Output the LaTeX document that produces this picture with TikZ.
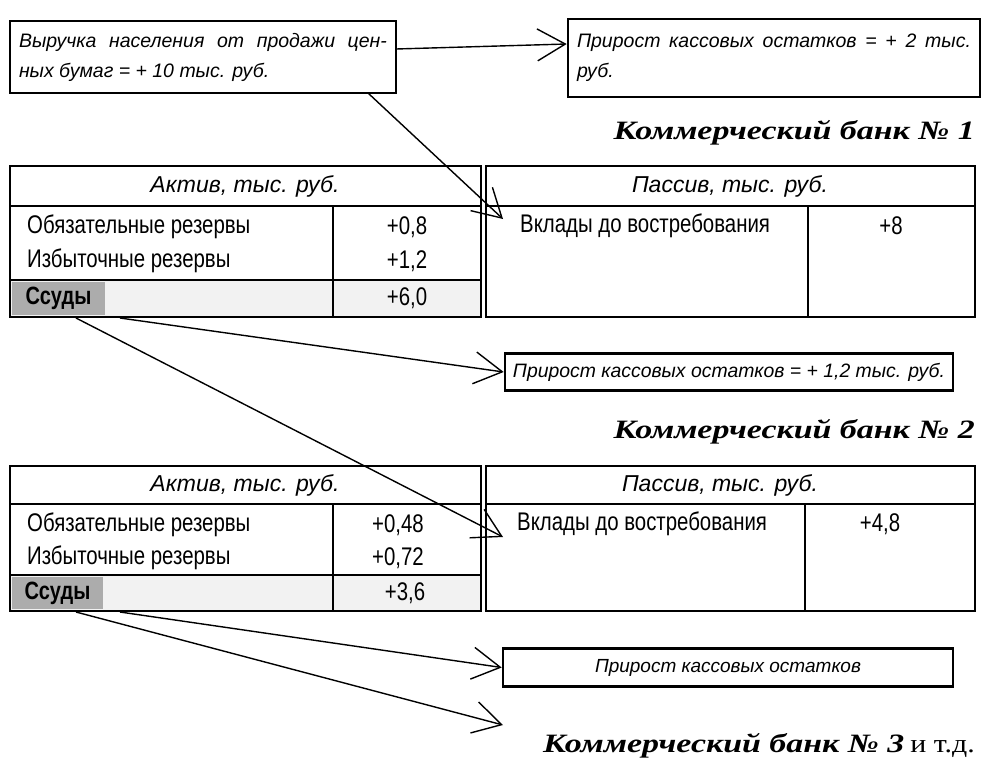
\documentclass[tikz,border=0pt]{standalone}
\usepackage{fontspec}
\setmainfont{Liberation Sans}
\newfontfamily\nar[FakeStretch=0.8]{Liberation Sans}
\newfontfamily\bankf[FakeStretch=1.28]{Liberation Serif}
\newfontfamily\banknorm[FakeStretch=1.15]{Liberation Serif}
\usetikzlibrary{arrows.meta,calc}
\begin{document}
\begin{tikzpicture}[x=1pt,y=-1pt,
  outer/.style={line width=2.8pt},
  inner/.style={line width=2.2pt},
  conn/.style={line width=1.4pt,-{Straight Barb[length=28pt,width=32pt,line width=1.4pt]}},
  tbox/.style={draw,line width=2.6pt,inner ysep=0pt,font=\itshape\fontsize{19.5}{30}\selectfont},
  cell/.style={font=\nar\fontsize{25.5}{28}\selectfont,inner sep=0pt},
  hdr/.style={font=\itshape\fontsize{23}{26}\selectfont,inner sep=0pt},
  bank/.style={font=\bankf\bfseries\itshape\fontsize{26.5}{32}\selectfont,anchor=base east,inner sep=0pt},
  loanlbl/.style={fill=gray!65,minimum width=93pt,minimum height=33pt,inner sep=0pt,font=\nar\bfseries\fontsize{25}{26}\selectfont}]
\useasboundingbox (0,0) rectangle (990,761);

% ---- top boxes
\node[tbox,minimum width=386pt,minimum height=72pt,text width=368pt,inner xsep=9pt,align=justify] (b1) at (203,57)
  {Выручка населения от продажи цен-\linebreak ных бумаг = + 10 тыс. руб.};
\node[tbox,minimum width=412pt,minimum height=78pt,text width=394pt,inner xsep=9pt,align=justify] (b2) at (774,58)
  {Прирост кассовых остатков = + 2 тыс.\linebreak руб.};

\node[bank] (bank1) at (975,139) {Коммерческий банк № 1};

% ---- table 1
\fill[gray!10] (10,280) rectangle (481,317);
\node[loanlbl] (loan1) at (58.5,298.5) {Ссуды};
\draw[outer] (10,166) rectangle (481,317);
\draw[outer] (486,166) rectangle (975,317);
\draw[inner] (10,206) -- (481,206) (486,206) -- (975,206);
\draw[inner] (333,206) -- (333,317);
\draw[inner] (10,280) -- (481,280);
\draw[inner] (808,206) -- (808,317);

\node[hdr] (h1a) at (245,186) {Актив, тыс. руб.};
\node[hdr] (h1p) at (730,186) {Пассив, тыс. руб.};
\node[cell,anchor=west] (o1) at (27,227) {Обязательные резервы};
\node[cell] (o1v) at (407,227) {+0,8};
\node[cell,anchor=west] (i1) at (27,261) {Избыточные резервы};
\node[cell] (i1v) at (407,261) {+1,2};
\node[cell] (l1v) at (407,298) {+6,0};
\node[cell,anchor=west] (d1) at (520,226) {Вклады до востребования};
\node[cell] (d1v) at (891,226) {+8};

% ---- middle
\node[tbox,minimum width=448pt,minimum height=37pt,inner xsep=6pt,font=\itshape\fontsize{19.4}{24}\selectfont] (b3) at (729,372)
  {Прирост кассовых остатков = + 1,2 тыс. руб.};
\node[bank] (bank2) at (975,438) {Коммерческий банк № 2};

% ---- table 2
\fill[gray!10] (10,575) rectangle (481,611);
\node[loanlbl,minimum width=91pt,minimum height=32pt] (loan2) at (57.5,593) {Ссуды};
\draw[outer] (10,466) rectangle (481,611);
\draw[outer] (486,466) rectangle (975,611);
\draw[inner] (10,504) -- (481,504) (486,504) -- (975,504);
\draw[inner] (333,504) -- (333,611);
\draw[inner] (10,575) -- (481,575);
\draw[inner] (805,504) -- (805,611);

\node[hdr] (h2a) at (245,485) {Актив, тыс. руб.};
\node[hdr] (h2p) at (720,485) {Пассив, тыс. руб.};
\node[cell,anchor=west] (o2) at (27,525) {Обязательные резервы};
\node[cell] (o2v) at (398,525) {+0,48};
\node[cell,anchor=west] (i2) at (27,558) {Избыточные резервы};
\node[cell] (i2v) at (398,558) {+0,72};
\node[cell] (l2v) at (405,593) {+3,6};
\node[cell,anchor=west] (d2) at (517,524) {Вклады до востребования};
\node[cell] (d2v) at (880,524) {+4,8};

% ---- bottom
\node[tbox,minimum width=450pt,minimum height=38pt,font=\itshape\fontsize{19}{24}\selectfont] (b4) at (728,667.5)
  {Прирост кассовых остатков};
\node[bank] (bank3) at (975,752) {Коммерческий банк № 3\hspace{6pt}{\banknorm\mdseries\upshape\fontsize{26}{28}\selectfont и т.д.}};

% ---- connectors
\coordinate (c1s) at (396,49);
\coordinate (c2s) at (368,93);
\coordinate (c2e) at (503,219);
\coordinate (c3s) at (120,318);
\coordinate (c4s) at (76,318);
\coordinate (c4e) at (503,537);
\coordinate (c5s) at (120,612);
\coordinate (c6s) at (76,612);
\coordinate (c6e) at (503,725);

\draw[conn] (c1s) -- (b2.west |- 0,44);
\draw[conn] (c2s) -- (c2e);
\draw[conn] (c3s) -- (b3.west);
\draw[conn] (c4s) -- (c4e);
\draw[conn] (c5s) -- (b4.west);
\draw[conn] (c6s) -- (c6e);
\end{tikzpicture}
\end{document}
